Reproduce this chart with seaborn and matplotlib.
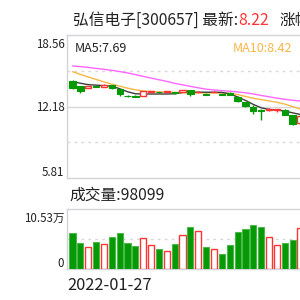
import numpy as np
import matplotlib
matplotlib.use('Agg')
import matplotlib.pyplot as plt
import seaborn as sns

sns.set_style('white')
plt.rcParams['font.family'] = ['Noto Sans CJK SC', 'DejaVu Sans']

# daily candles (price, yuan)
opens = [14.46, 14.01, 13.86, 13.99, 13.92, 14.10, 13.71, 13.14, 13.10, 13.12,
         13.48, 13.50, 13.50, 13.42, 13.50, 13.66, 13.46, 13.28, 13.47, 13.28,
         13.41, 13.06, 12.58, 12.13, 11.89, 11.87, 11.90, 11.87, 11.42, 10.73]
closes = [13.80, 13.57, 14.01, 13.96, 14.10, 13.80, 13.26, 13.10, 13.06, 13.57,
          13.53, 13.46, 13.55, 13.39, 13.66, 13.26, 13.50, 13.25, 13.52, 13.25,
          13.21, 12.67, 12.22, 11.78, 11.78, 11.98, 11.94, 11.47, 10.64, 11.36]
highs = [14.55, 14.05, 14.05, 14.05, 14.15, 14.12, 13.75, 13.22, 13.18, 13.60,
         13.58, 13.56, 13.60, 13.47, 13.70, 13.70, 13.55, 13.35, 13.56, 13.34,
         13.45, 13.10, 12.62, 12.30, 11.92, 12.05, 12.00, 11.92, 11.45, 11.45]
lows = [13.72, 13.40, 13.82, 13.90, 13.88, 13.76, 13.12, 13.03, 12.99, 13.10,
        13.45, 13.40, 13.46, 13.32, 13.47, 13.08, 13.42, 13.18, 13.44, 13.18,
        13.17, 12.60, 12.15, 11.55, 11.02, 11.82, 11.70, 11.40, 10.55, 10.50]

# moving averages as drawn
ma5 = [14.40, 14.26, 14.13, 14.09, 14.04, 14.00, 13.77, 13.50, 13.32, 13.30,
       13.30, 13.30, 13.30, 13.32, 13.44, 13.46, 13.46, 13.46, 13.46, 13.44,
       13.32, 13.03, 12.73, 12.37, 12.07, 11.92, 11.87, 11.78, 11.62, 11.47]
ma10 = [15.29, 15.05, 14.82, 14.60, 14.38, 14.18, 14.00, 13.82, 13.68, 13.57,
        13.52, 13.49, 13.47, 13.44, 13.42, 13.41, 13.40, 13.40, 13.39, 13.38,
        13.36, 13.25, 13.08, 12.92, 12.80, 12.68, 12.56, 12.40, 12.18, 11.95]
ma20 = [15.80, 15.74, 15.67, 15.58, 15.50, 15.41, 15.30, 15.18, 15.03, 14.87,
        14.72, 14.57, 14.42, 14.25, 14.12, 13.98, 13.85, 13.73, 13.66, 13.60,
        13.55, 13.48, 13.41, 13.30, 13.17, 13.05, 12.93, 12.83, 12.74, 12.67]

# volume in 万 shares
volumes = [6.37, 4.62, 3.86, 4.79, 4.44, 5.62, 6.37, 4.62, 4.04, 5.44,
           4.27, 3.46, 3.21, 4.33, 6.02, 7.37, 6.62, 3.86, 3.51, 2.69,
           4.16, 6.49, 6.97, 7.67, 7.37, 5.62, 4.27, 4.62, 5.04, 7.20]

price_top, price_bottom = 18.56, 5.81
vol_top = 10.53

RED = '#ff3333'
GREEN = '#069906'
GREEN_EDGE = '#4cb84c'
FRAME = '#d4d4d8'
GRID = '#d8d8d8'

W, H = 300, 300
fig = plt.figure(figsize=(3, 3), dpi=100)
fig.patch.set_facecolor('white')


def fx(px):
    return px / W


def fy(py):
    return 1 - py / H


ax = fig.add_axes([fx(67), fy(178), fx(300) - fx(67), fy(35) - fy(178)])
axv = fig.add_axes([fx(67), fy(269), fx(300) - fx(67), fy(209) - fy(269)])

x = np.arange(len(opens))
o = np.array(opens)
c = np.array(closes)
up = c >= o
body_lo = np.minimum(o, c)
body_h = np.maximum(np.abs(c - o), 0.05)

# candles
ax.vlines(x[up], np.array(lows)[up], np.array(highs)[up], colors=RED, lw=1, zorder=2)
ax.vlines(x[~up], np.array(lows)[~up], np.array(highs)[~up], colors=GREEN, lw=1, zorder=2)
ax.bar(x[up], body_h[up], bottom=body_lo[up], width=0.8, facecolor='white',
       edgecolor=RED, lw=1, zorder=3)
ax.bar(x[~up], body_h[~up], bottom=body_lo[~up], width=0.8, facecolor=GREEN,
       edgecolor=GREEN, lw=0.8, zorder=3)

sns.lineplot(x=x, y=ma20, ax=ax, color='#ff66ff', lw=1, zorder=2.5)
sns.lineplot(x=x, y=ma10, ax=ax, color='#f8b646', lw=1, zorder=2.5)
sns.lineplot(x=x, y=ma5, ax=ax, color='#3c3c3c', lw=1, zorder=2.5)

span = price_top - price_bottom
ax.axhline(price_bottom + span / 2, color=GRID, lw=1, zorder=1)
for k in (0.25, 0.75):
    ax.axhline(price_bottom + span * k, color=GRID, lw=1, ls=(0, (2, 3)), zorder=1)

ax.set_xlim(-0.7, 28.94)
ax.set_ylim(price_bottom, price_top)

# volume
v = np.array(volumes)
axv.bar(x[up], v[up], width=0.78, facecolor='white', edgecolor=RED, lw=1, zorder=3)
axv.bar(x[~up], v[~up], width=0.78, facecolor=GREEN, edgecolor=GREEN_EDGE, lw=0.8, zorder=3)
axv.axhline(vol_top / 2, color=GRID, lw=1, ls=(0, (2, 3)), zorder=1)
axv.set_xlim(-0.7, 28.94)
axv.set_ylim(0, vol_top)

for a in (ax, axv):
    a.set_xticks([])
    a.set_yticks([])
    a.set_xlabel('')
    a.set_ylabel('')
    for s in ('left', 'top', 'bottom'):
        a.spines[s].set_color(FRAME)
        a.spines[s].set_linewidth(1)
    a.spines['right'].set_visible(False)

# texts
fs_title = 11.3
fig.canvas.draw()
renderer = fig.canvas.get_renderer()
t1 = fig.text(fx(73), fy(25), '弘信电子[300657] 最新:', fontsize=fs_title,
              color='#222222', va='baseline', ha='left')
bb = t1.get_window_extent(renderer).transformed(fig.transFigure.inverted())
t2 = fig.text(bb.x1, fy(25), '8.22', fontsize=fs_title, color=RED, va='baseline', ha='left')
bb = t2.get_window_extent(renderer).transformed(fig.transFigure.inverted())
fig.text(bb.x1 + fx(11), fy(25), '涨幅:-6.59%', fontsize=fs_title, color='#222222',
         va='baseline', ha='left')

fig.text(fx(75), fy(52), 'MA5:7.69', fontsize=9, color='#222222', va='baseline', ha='left')
fig.text(fx(292), fy(52), 'MA10:8.42', fontsize=9, color='#f8b646', va='baseline', ha='right')

fig.text(fx(64.5), fy(47.5), '18.56', fontsize=8.3, color='#222222', va='baseline', ha='right')
fig.text(fx(64.5), fy(111.5), '12.18', fontsize=8.3, color='#222222', va='baseline', ha='right')
fig.text(fx(64.5), fy(175.5), '5.81', fontsize=8.3, color='#222222', va='baseline', ha='right')

fig.text(fx(69), fy(200), '成交量:98099', fontsize=fs_title, color='#222222',
         va='baseline', ha='left')
fig.text(fx(64), fy(222), '10.53万', fontsize=8.3, color='#222222', va='baseline', ha='right')
fig.text(fx(64), fy(267), '0', fontsize=8.3, color='#222222', va='baseline', ha='right')

fig.text(fx(67), fy(290), '2022-01-27', fontsize=11.8, color='#222222',
         va='baseline', ha='left')

fig.savefig('out.png', dpi=100, facecolor='white')
